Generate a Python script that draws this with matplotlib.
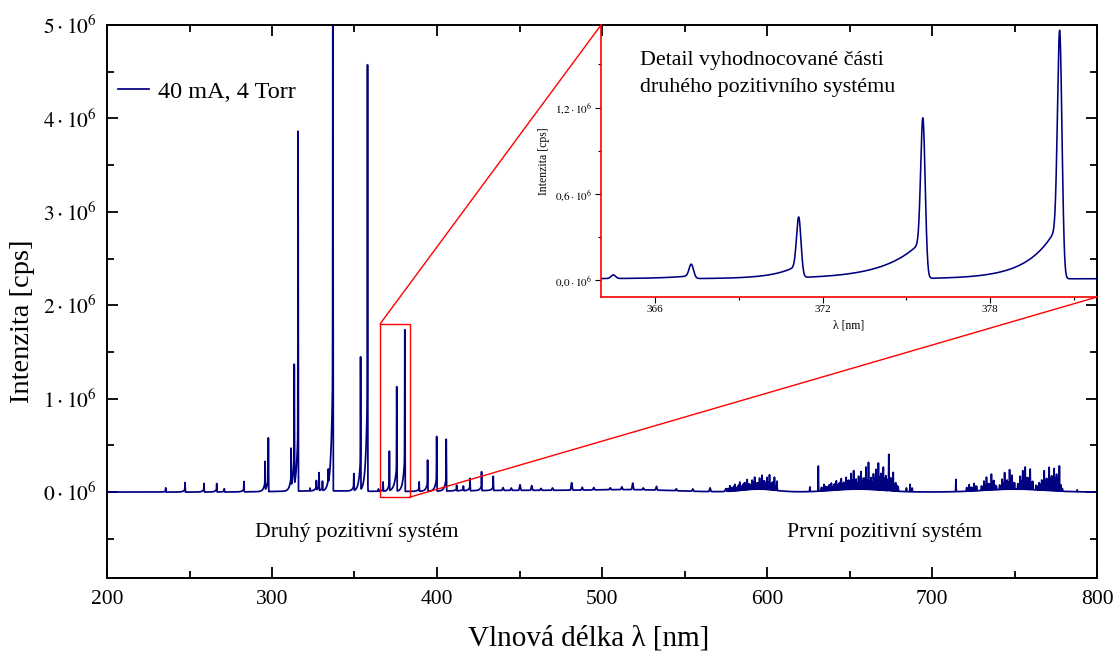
import numpy as np
import matplotlib
matplotlib.use("Agg")
import matplotlib.pyplot as plt
from matplotlib.ticker import MultipleLocator, FuncFormatter
from matplotlib.patches import Rectangle, ConnectionPatch

plt.rcParams['font.family'] = ['Liberation Serif', 'DejaVu Serif']
plt.rcParams['mathtext.fontset'] = 'stix'

# ---------------- data (intensities in 10^6 cps, wavelengths in nm) ----------
# Second positive system band heads: centre, peak height, tail height, tail length
sps_center = [235.6, 247.3, 258.8, 266.5, 271.1, 283.0, 295.8, 297.8, 311.6, 313.5,
              315.8, 323.0, 326.9, 328.5, 330.6, 334.1, 336.9, 349.6, 353.7, 357.9,
              364.5, 367.3, 371.15, 375.6, 380.5, 389.2, 394.3, 399.8, 405.6, 411.9,
              416.0, 420.0, 427.0, 434.1]
sps_height = [0.045, 0.10, 0.09, 0.09, 0.035, 0.11, 0.30, 0.57, 0.40, 1.28,
              3.84, 0.03, 0.10, 0.19, 0.10, 0.15, 5.60, 0.18, 1.41, 4.53,
              0.025, 0.10, 0.42, 1.11, 1.72, 0.10, 0.33, 0.58, 0.55, 0.06,
              0.05, 0.13, 0.20, 0.15]
sps_tail = [0.01, 0.03, 0.03, 0.03, 0.01, 0.03, 0.08, 0.15, 0.10, 0.32,
            0.70, 0.0, 0.03, 0.05, 0.03, 0.04, 1.39, 0.05, 0.35, 1.16,
            0.0, 0.02, 0.09, 0.27, 0.40, 0.03, 0.09, 0.15, 0.14, 0.02,
            0.02, 0.04, 0.05, 0.04]
sps_tail_len = [1.0, 1.0, 1.0, 1.0, 1.0, 1.0, 1.0, 1.0, 1.0, 1.0,
                1.0, 1.0, 1.0, 1.0, 1.0, 1.0, 1.0, 1.0, 1.0, 1.0,
                1.0, 1.0, 0.8, 1.3, 1.0, 1.0, 1.0, 1.0, 1.0, 1.0,
                1.0, 1.0, 1.0, 1.0]

# Weak lines in 440-600 nm
weak_center = [440.0, 445.0, 450.3, 457.4, 463.0, 470.0, 481.6, 488.0, 495.0, 505.0,
               512.0, 518.6, 525.0, 533.0, 545.0, 555.0, 565.5, 575.0]
weak_height = [0.03, 0.025, 0.06, 0.05, 0.02, 0.025, 0.08, 0.03, 0.025, 0.02,
               0.03, 0.07, 0.02, 0.04, 0.02, 0.025, 0.04, 0.03]

# First positive system (dense rotational structure): stronger lines
fps_center = [576.0, 577.5, 579.0, 580.5, 582.0, 583.5, 585.0, 586.5, 588.0, 589.5,
              591.0, 592.5, 594.0, 595.5, 597.0, 598.5, 600.0, 601.5, 603.0, 604.5, 606.0,
              626.0, 631.1, 633.0, 634.5, 636.0, 637.5, 639.0, 640.5, 642.0, 643.5,
              645.0, 646.5, 648.0, 649.5, 651.0, 652.5, 654.0, 655.5, 657.0, 658.5,
              660.0, 661.5, 663.0, 664.5, 666.0, 667.5, 669.0, 670.5, 672.0, 673.8,
              675.0, 676.5, 678.0, 679.5, 684.5, 686.7, 688.0,
              714.5, 721.0, 722.5, 724.0, 725.5, 727.0, 730.0, 731.5, 733.0, 734.5,
              736.0, 737.5, 739.0, 741.0, 742.5, 744.0, 745.5, 747.0, 748.5, 750.0,
              752.0, 753.5, 755.0, 756.5, 758.0, 759.5, 761.0, 763.0, 765.0, 766.5,
              768.0, 769.5, 771.0, 772.5, 774.0, 775.5, 777.2, 779.0, 788.0]
fps_height = [0.03, 0.06, 0.03, 0.07, 0.04, 0.09, 0.05, 0.08, 0.11, 0.06,
              0.10, 0.13, 0.07, 0.12, 0.15, 0.09, 0.13, 0.16, 0.08, 0.14, 0.10,
              0.05, 0.27, 0.04, 0.07, 0.04, 0.06, 0.08, 0.06, 0.10, 0.07,
              0.12, 0.08, 0.13, 0.10, 0.17, 0.20, 0.11, 0.14, 0.19, 0.12,
              0.24, 0.29, 0.13, 0.17, 0.22, 0.29, 0.18, 0.25, 0.16, 0.39,
              0.14, 0.20, 0.09, 0.05, 0.04, 0.08, 0.04,
              0.13, 0.04, 0.07, 0.04, 0.08, 0.05, 0.05, 0.10, 0.14, 0.07,
              0.17, 0.10, 0.04, 0.05, 0.11, 0.18, 0.10, 0.21, 0.15, 0.07,
              0.06, 0.14, 0.20, 0.24, 0.13, 0.22, 0.09, 0.05, 0.08, 0.11,
              0.21, 0.13, 0.25, 0.16, 0.24, 0.18, 0.27, 0.03, 0.02]
# First positive system: weaker intermediate lines
fps2_center = [576.75, 578.25, 579.75, 581.25, 582.75, 584.25, 585.75, 587.25, 588.75, 590.25,
               591.75, 593.25, 594.75, 596.25, 597.75, 599.25, 600.75, 602.25, 603.75, 605.25,
               633.75, 635.25, 636.75, 638.25, 639.75, 641.25, 642.75, 644.25, 645.75, 647.25,
               648.75, 650.25, 651.75, 653.25, 654.75, 656.25, 657.75, 659.25, 660.75, 662.25,
               663.75, 665.25, 666.75, 668.25, 669.75, 671.25, 672.9, 674.4, 675.75, 677.25, 678.75,
               721.75, 723.25, 724.75, 726.25, 730.75, 732.25, 733.75, 735.25, 736.75, 738.25,
               741.75, 743.25, 744.75, 746.25, 747.75, 749.25, 752.75, 754.25, 755.75, 757.25,
               758.75, 760.25, 764.0, 765.75, 767.25, 768.75, 770.25, 771.75, 773.25, 774.75,
               776.4, 778.0]
fps2_height = [0.03, 0.04, 0.05, 0.03, 0.06, 0.04, 0.07, 0.05, 0.06, 0.05,
               0.08, 0.05, 0.07, 0.06, 0.09, 0.06, 0.08, 0.06, 0.09, 0.05,
               0.03, 0.05, 0.04, 0.06, 0.04, 0.07, 0.05, 0.08, 0.06, 0.07,
               0.09, 0.07, 0.10, 0.08, 0.07, 0.11, 0.09, 0.12, 0.10, 0.09,
               0.08, 0.12, 0.10, 0.14, 0.11, 0.13, 0.12, 0.09, 0.10, 0.08, 0.06,
               0.03, 0.04, 0.03, 0.05, 0.04, 0.06, 0.07, 0.06, 0.09, 0.05,
               0.04, 0.07, 0.09, 0.08, 0.11, 0.07, 0.06, 0.09, 0.11, 0.12,
               0.10, 0.08, 0.04, 0.06, 0.09, 0.11, 0.10, 0.13, 0.11, 0.14,
               0.12, 0.07]

# Slowly varying background
bg_center = [330.0, 450.0, 520.0, 595.0, 655.0, 750.0]
bg_height = [0.012, 0.018, 0.02, 0.03, 0.03, 0.03]
bg_width = [25.0, 45.0, 25.0, 10.0, 15.0, 18.0]

legend_label = "40 mA, 4 Torr"
main_xticks = [200, 300, 400, 500, 600, 700, 800]
main_yticks = [0, 1, 2, 3, 4, 5]
inset_xticks = [366, 372, 378]
inset_yticks = [0.0, 0.6, 1.2]

# ---------------- build spectrum ----------------
def spectrum(x):
    y = np.zeros_like(x)
    for c, h, w in zip(bg_center, bg_height, bg_width):
        y += h * np.exp(-0.5 * ((x - c) / w) ** 2)
    for c, h, t, L in zip(sps_center, sps_height, sps_tail, sps_tail_len):
        y += (h - 0.5 * t) * np.exp(-0.5 * ((x - c) / 0.08) ** 2)
        d = x - c
        y += t * np.exp(np.minimum(d, 0) / L) / (1 + np.exp(np.clip(d / 0.04, -50, 50)))
    for c, h in zip(weak_center, weak_height):
        y += h * np.exp(-0.5 * ((x - c) / 0.3) ** 2)
    for c, h in zip(fps_center + fps2_center, fps_height + fps2_height):
        y += h * np.exp(-0.5 * ((x - c) / 0.1) ** 2)
    return y * 1e6

wl = np.arange(200.0, 800.0, 0.01)
inten = spectrum(wl)
wl_in = np.arange(364.0, 382.0, 0.005)
inten_in = spectrum(wl_in)

navy = '#000080'
red = '#ff0000'

fig = plt.figure(figsize=(11.13, 6.54), dpi=100)
ax = fig.add_axes([107/1113, 1 - 578/654, 990/1113, 553/654])
ax.plot(wl, inten, color=navy, lw=1.25, label=legend_label)
ax.set_xlim(200, 800)
ax.set_ylim(-0.92e6, 5e6)
ax.set_xticks(main_xticks)
ax.set_yticks([v * 1e6 for v in main_yticks])
ax.xaxis.set_minor_locator(MultipleLocator(50))
ax.yaxis.set_minor_locator(MultipleLocator(0.5e6))
ax.yaxis.set_major_formatter(FuncFormatter(lambda v, p: r'$%d\cdot10^{6}$' % round(v / 1e6)))
ax.tick_params(which='both', direction='in', top=True, right=True, width=1.3,
               labelsize=15.5)
ax.tick_params(which='major', length=8)
ax.tick_params(which='minor', length=5)
ax.tick_params(axis='x', pad=9)
ax.tick_params(axis='y', pad=7)
for s in ax.spines.values():
    s.set_linewidth(1.4)
ax.set_xlabel('Vlnová délka λ [nm]', fontsize=21)
ax.set_ylabel('Intenzita [cps]', fontsize=20.5)
ax.xaxis.set_label_coords(0.486, -0.085)
ax.yaxis.set_label_coords(-0.073, 0.465)

ax.legend(loc='center left', bbox_to_anchor=(0.011, 0.879), frameon=False,
          fontsize=17.5, borderpad=0, borderaxespad=0, handlelength=1.3,
          handletextpad=0.35)

ax.text(351.5, -0.43e6, 'Druhý pozitivní systém', fontsize=15.6, ha='center', va='center')
ax.text(671.0, -0.43e6, 'První pozitivní systém', fontsize=15.6, ha='center', va='center')

# zoom rectangle in main axes
rx0, rx1, ry0, ry1 = 365.5, 383.6, -0.054e6, 1.80e6
ax.add_patch(Rectangle((rx0, ry0), rx1 - rx0, ry1 - ry0, fill=False, ec=red, lw=1.0, zorder=5))

# inset
axin = fig.add_axes([601/1113, 1 - 297/654, 496/1113, 272/654], facecolor='none')
axin.plot(wl_in, inten_in, color=navy, lw=1.15)
axin.set_xlim(364.06, 381.83)
axin.set_ylim(-0.12e6, 1.775e6)
axin.set_xticks(inset_xticks)
axin.set_yticks([v * 1e6 for v in inset_yticks])
axin.xaxis.set_minor_locator(MultipleLocator(3))
axin.yaxis.set_minor_locator(MultipleLocator(0.3e6))
axin.yaxis.set_major_formatter(FuncFormatter(
    lambda v, p: (r'$%.1f\cdot10^{6}$' % (v / 1e6)).replace('.', '{,}')))
axin.tick_params(which='both', direction='out', labelsize=8, width=0.8, pad=2)
axin.tick_params(which='major', length=4)
axin.tick_params(which='minor', length=2.5)
for side in ['top', 'right']:
    axin.spines[side].set_visible(False)
for side in ['left', 'bottom']:
    axin.spines[side].set_color(red)
    axin.spines[side].set_linewidth(1.2)
axin.set_xlabel('λ [nm]', fontsize=8.5, labelpad=4)
axin.set_ylabel('Intenzita [cps]', fontsize=8.5, labelpad=4)
axin.text(0.079, 0.905, 'Detail vyhodnocované části\ndruhého pozitivního systému',
          transform=axin.transAxes, fontsize=15.8, ha='left', va='top', linespacing=1.6)

# connector lines
for xyA, xyB in [((rx0, ry1), (0, 1)), ((rx1, ry0), (1, 0))]:
    con = ConnectionPatch(xyA=xyA, coordsA=ax.transData, xyB=xyB, coordsB=axin.transAxes,
                          color=red, lw=1.0)
    fig.add_artist(con)

fig.savefig('out.png', dpi=100)
